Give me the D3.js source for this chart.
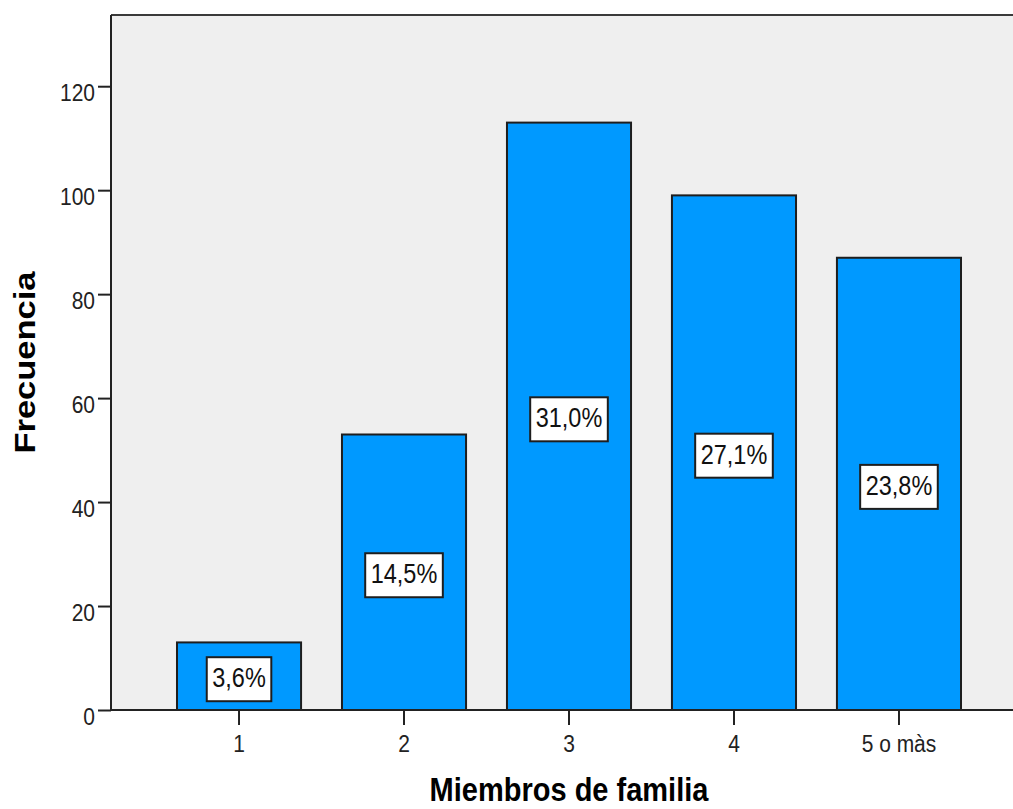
<!DOCTYPE html>
<html>
<head>
<meta charset="utf-8">
<script src="https://cdn.jsdelivr.net/npm/d3@7"></script>
<style>
  html, body { margin: 0; padding: 0; background: #fff; }
  svg { display: block; }
  text { font-family: "Liberation Sans", Arial, sans-serif; }
</style>
</head>
<body>
<svg id="chart" width="1013" height="809"></svg>
<script>
// ---- data ----
const categories = ["1", "2", "3", "4", "5 o màs"];
const frequencies = [13, 53, 113, 99, 87];
const yTicks = [0, 20, 40, 60, 80, 100, 120];
const xTitle = "Miembros de familia";
const yTitle = "Frecuencia";

const W = 1013, H = 809;
const plot = { left: 111, right: 1027, top: 15, bottom: 710 };
const SY = 1.15; // vertical stretch of the text in the reference

const svg = d3.select("#chart");
const total = d3.sum(frequencies);

const x = d3.scaleBand()
  .domain(categories)
  .range([plot.left, plot.right])
  .paddingInner(0.248)
  .paddingOuter(0.4);

const y = d3.scaleLinear()
  .domain([0, 133.7])
  .range([plot.bottom, plot.top]);

// plot background
svg.append("rect")
  .attr("x", plot.left).attr("y", plot.top)
  .attr("width", W - plot.left).attr("height", plot.bottom - plot.top)
  .attr("fill", "#efefef");

// top frame line
svg.append("line")
  .attr("x1", plot.left).attr("x2", W)
  .attr("y1", plot.top).attr("y2", plot.top)
  .attr("stroke", "#3a3a3a").attr("stroke-width", 2);

// bars
svg.append("g").selectAll("rect")
  .data(frequencies)
  .join("rect")
  .attr("x", (d, i) => x(categories[i]))
  .attr("y", d => y(d))
  .attr("width", x.bandwidth())
  .attr("height", d => y(0) - y(d))
  .attr("fill", "#0099ff")
  .attr("stroke", "#1e1e1e")
  .attr("stroke-width", 2);

// y axis
const yAxis = d3.axisLeft(y).tickValues(yTicks).tickSize(13).tickPadding(3).tickFormat(d3.format("d"));
const gy = svg.append("g").attr("transform", `translate(${plot.left},0)`).call(yAxis);
gy.select(".domain").attr("stroke", "#222").attr("stroke-width", 2)
  .attr("d", `M0,${plot.top}V${plot.bottom}`);
gy.selectAll(".tick line").attr("stroke", "#222").attr("stroke-width", 2);
gy.selectAll(".tick text")
  .attr("font-size", 21).attr("fill", "#222")
  .attr("font-family", "Liberation Sans, Arial, sans-serif")
  .attr("dy", null).attr("y", 0)
  .attr("transform", `translate(-16,14) scale(1,${SY})`)
  .attr("x", 0);

// x axis
const xAxis = d3.axisBottom(x).tickSize(15).tickPadding(0);
const gx = svg.append("g").attr("transform", `translate(0,${plot.bottom})`).call(xAxis);
gx.select(".domain").attr("stroke", "#222").attr("stroke-width", 2)
  .attr("d", `M${plot.left},0H${W}`);
gx.selectAll(".tick line").attr("stroke", "#222").attr("stroke-width", 2);
gx.selectAll(".tick text")
  .attr("font-size", 21).attr("fill", "#222")
  .attr("font-family", "Liberation Sans, Arial, sans-serif")
  .attr("dy", null).attr("y", 0)
  .attr("transform", `translate(0,42) scale(1,${SY})`);

// percent labels
const lab = svg.append("g").selectAll("g")
  .data(frequencies)
  .join("g")
  .attr("transform", (d, i) => `translate(${x(categories[i]) + x.bandwidth() / 2},${y(d / 2) + 3})`);
lab.append("rect").attr("class", "box");
lab.append("text")
  .attr("text-anchor", "middle")
  .attr("font-size", 23.5)
  .attr("fill", "#111")
  .attr("transform", `translate(0,8) scale(1,${SY})`)
  .text(d => (d / total * 100).toFixed(1).replace(".", ",") + "%");
lab.each(function () {
  const g = d3.select(this);
  const w = g.select("text").node().getComputedTextLength() + 11;
  g.select("rect")
    .attr("x", -w / 2).attr("y", -22)
    .attr("width", w).attr("height", 44)
    .attr("fill", "#fff").attr("stroke", "#1e1e1e").attr("stroke-width", 2);
});

// axis titles
svg.append("text")
  .attr("text-anchor", "middle")
  .attr("font-size", 29).attr("font-weight", "bold").attr("fill", "#000")
  .attr("transform", `translate(${(plot.left + W) / 2 + 7},801) scale(1,${SY})`)
  .text(xTitle);

svg.append("text")
  .attr("text-anchor", "middle")
  .attr("font-size", 30).attr("font-weight", "bold").attr("fill", "#000")
  .attr("transform", `translate(35,${(plot.top + plot.bottom) / 2}) scale(1,${SY}) rotate(-90)`)
  .text(yTitle);
</script>
</body>
</html>
